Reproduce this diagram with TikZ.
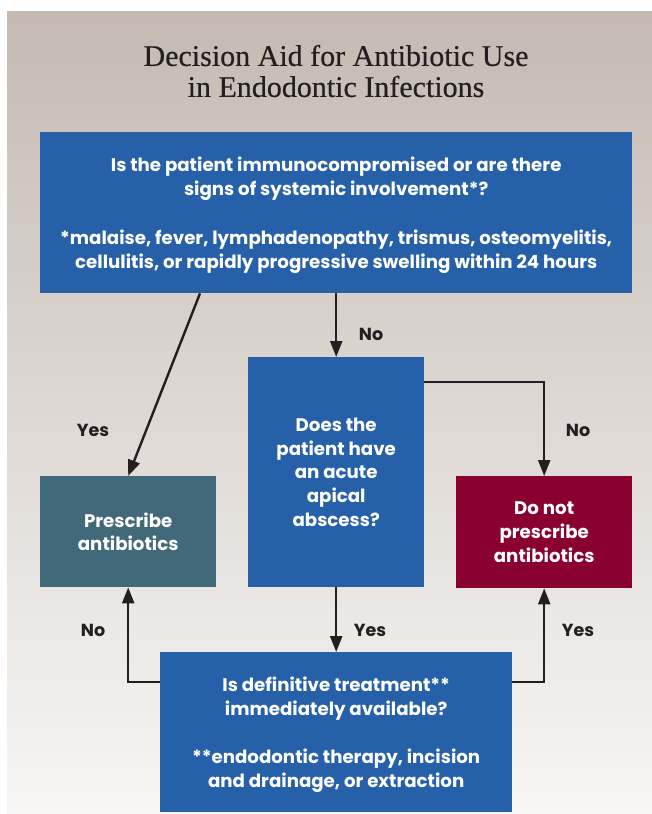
\documentclass[tikz,border=0pt]{standalone}
\usepackage{fontspec}
\setmainfont{Poppins}
\newfontfamily\titlefont[FakeBold=0.4]{Liberation Serif}
\usetikzlibrary{arrows.meta,positioning}

\definecolor{boxblue}{RGB}{38,96,169}
\definecolor{boxteal}{RGB}{65,105,122}
\definecolor{boxred}{RGB}{138,0,48}
\definecolor{inkdark}{RGB}{35,31,32}
\definecolor{bgtop}{RGB}{196,186,178}
\definecolor{bgbot}{RGB}{247,246,245}

\begin{document}
\begin{tikzpicture}[x=1pt,y=-1pt,
    box/.style={fill=boxblue,text=white,align=center,anchor=north west,inner sep=0pt,
      font=\bfseries\fontsize{18.2}{23.7}\selectfont},
    notebox/.style={box,text depth=-5pt},
    lbl/.style={text=inkdark,font=\bfseries\fontsize{17.5}{20}\selectfont},
    flow/.style={draw=inkdark,line width=2.4pt,-{Triangle[length=16pt,width=12pt]}}]
    % page and background panel
    \fill[white] (0,0) rectangle (652,814);
    \useasboundingbox (0,0) rectangle (652,814);
    \shade[top color=bgtop,bottom color=bgbot] (7,11) rectangle (652,814);
    \node[text=inkdark,align=center,inner sep=0pt,font=\titlefont\fontsize{30}{31}\selectfont] (title) at (336,71)
        {Decision Aid for Antibiotic Use\\in Endodontic Infections};
    % boxes
    \node[notebox,minimum width=592pt,minimum height=161pt] (ask) at (40,132)
        {Is the patient immunocompromised or are there\\signs of systemic involvement*?\\[25pt]
         *malaise, fever, lymphadenopathy, trismus, osteomyelitis,\\cellulitis, or rapidly progressive swelling within 24 hours};
    \node[box,minimum width=176pt,minimum height=230pt] (abscess) at (248,357)
        {Does the\\patient have\\an acute\\apical\\abscess?};
    \node[box,fill=boxteal,minimum width=176pt,minimum height=111pt] (presc) at (40,476)
        {Prescribe\\antibiotics};
    \node[box,fill=boxred,minimum width=176pt,minimum height=112pt] (nopresc) at (456,476)
        {Do not\\prescribe\\antibiotics};
    \node[notebox,minimum width=352pt,minimum height=160pt] (avail) at (160,652)
        {Is definitive treatment**\\immediately available?\\[25pt]
         **endodontic therapy, incision\\and drainage, or extraction};
    % connectors
    \draw[flow] ([xshift=160pt]ask.south west) -- (presc.north);
    \draw[flow] (ask.south) -- (abscess.north);
    \draw[flow] ([yshift=-25pt]abscess.north east) -| (nopresc.north);
    \draw[flow] (abscess.south) -- (avail.north);
    \draw[flow] ([yshift=-30pt]avail.north west) -| (presc.south);
    \draw[flow] ([yshift=-30pt]avail.north east) -| (nopresc.south);
    % labels
    \node[lbl] (yes1) at (93,430) {Yes};
    \node[lbl] (no1) at (371,334) {No};
    \node[lbl] (no2) at (578,430) {No};
    \node[lbl] (yes2) at (370,630) {Yes};
    \node[lbl] (no3) at (93,630) {No};
    \node[lbl] (yes3) at (578,630) {Yes};
\end{tikzpicture}
\end{document}
